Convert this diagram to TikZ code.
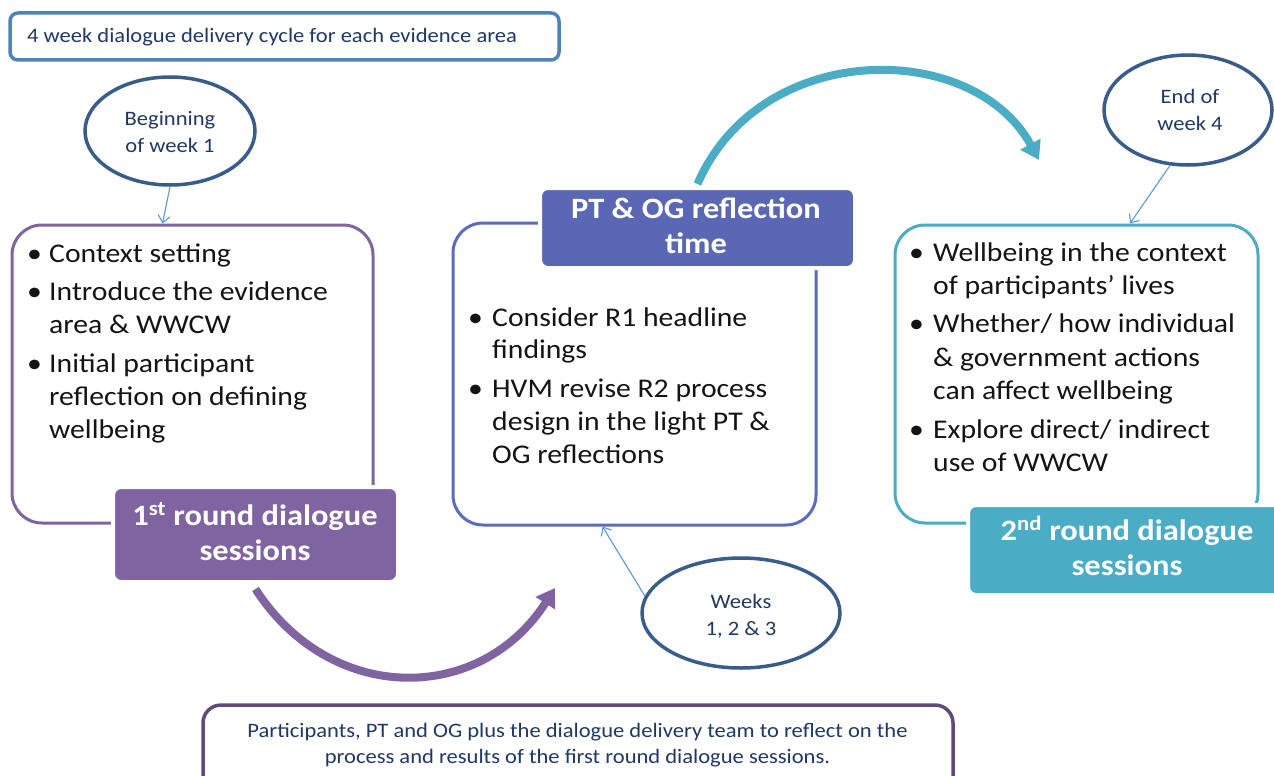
\documentclass[tikz,border=0pt]{standalone}
\usepackage{fontspec}
\setmainfont{Carlito}[FakeStretch=1.1]
\usetikzlibrary{arrows.meta,shapes.geometric}
\definecolor{ttlblue}{HTML}{4F81BD}
\definecolor{ellblue}{HTML}{385D8A}
\definecolor{navy}{HTML}{1F3864}
\definecolor{thinblue}{HTML}{5B9BD5}
\definecolor{purp}{HTML}{8064A2}
\definecolor{midfill}{HTML}{5A67B4}
\definecolor{midline}{HTML}{5B6CC0}
\definecolor{tealc}{HTML}{4BACC6}
\definecolor{darkpurp}{HTML}{604A7B}
\definecolor{bodytext}{HTML}{141414}
\begin{document}
\begin{tikzpicture}[x=1pt,y=-1pt,
  obox/.style={draw, line width=3pt, rounded corners=30pt, inner sep=0pt, fill=white},
  hbox/.style={draw=white, line width=4pt, rounded corners=8pt, inner sep=0pt},
  ell/.style={ellipse, draw=ellblue, line width=3.5pt, fill=white, inner sep=0pt},
  body/.style={anchor=base west, inner sep=0pt, text=bodytext, font=\fontsize{27}{33}\selectfont},
  small/.style={anchor=base, inner sep=0pt, text=navy, font=\fontsize{20.5}{24}\selectfont},
  head/.style={anchor=base, inner sep=0pt, text=white, font=\fontsize{29.5}{35}\selectfont\bfseries},
  thinarr/.style={draw=thinblue, line width=1.1pt, -{Straight Barb[length=7pt,width=12pt]}},
  bigarr/.style={line width=8pt, -{Triangle[length=18pt,width=22pt]}}
]
\useasboundingbox (0,0) rectangle (1274,776);
\clip (0,0) rectangle (1274,776);
\fill[white] (0,0) rectangle (1274,776);

% title box
\node[draw=ttlblue, line width=3.5pt, rounded corners=8pt, minimum width=549pt, minimum height=47pt, inner sep=0pt] (title) at (284.5,36.5) {};
\node[small, anchor=base west] (titletext) at (27,43) {4 week dialogue delivery cycle for each evidence area};

% bottom box
\node[draw=darkpurp, line width=3.5pt, rounded corners=18pt, minimum width=750pt, minimum height=100pt, inner sep=0pt] (bottom) at (578,755) {};
\node[small] (bt1) at (577.5,737) {Participants, PT and OG plus the dialogue delivery team to reflect on the};
\node[small] (bt2) at (577.5,763) {process and results of the first round dialogue sessions.};

% outline boxes
\node[obox, draw=purp, minimum width=361pt, minimum height=298pt] (lbox) at (192.5,374) {};
\node[obox, draw=midline, minimum width=363pt, minimum height=302pt] (mbox) at (634.5,374) {};
\node[obox, draw=tealc, minimum width=363pt, minimum height=298pt] (rbox) at (1076.5,374) {};

% ellipses
\node[ell, minimum width=170pt, minimum height=108pt] (e1) at (170,131) {};
\node[small] (e1a) at (170,125) {Beginning};
\node[small] (e1b) at (170,152) {of week 1};
\node[ell, minimum width=198pt, minimum height=110pt] (e2) at (741,613) {};
\node[small] (e2a) at (741,608) {Weeks};
\node[small] (e2b) at (741,635) {1, 2 \& 3};
\node[ell, minimum width=168pt, minimum height=110pt] (e3) at (1188,110) {};
\node[small] (e3a) at (1190,103) {End of};
\node[small] (e3b) at (1190,130) {week 4};

% thin connectors
\draw[thinarr] (e1.south) -- ([xshift=-30pt]lbox.north);
\draw[thinarr] (e2.170) -- ([xshift=-32pt]mbox.south);
\draw[thinarr] (e3.252) -- ([xshift=53.5pt]rbox.north);

% left bullets
\node[body] (lb1) at (27,262) {•};
\node[body] (lt1) at (49,262) {Context setting};
\node[body] (lb2) at (27,300) {•};
\node[body] (lt2) at (49,300) {Introduce the evidence};
\node[body] (lt3) at (49,333) {area \& WWCW};
\node[body] (lb3) at (27,372) {•};
\node[body] (lt4) at (49,372) {Initial participant};
\node[body] (lt5) at (49,405) {reflection on defining};
\node[body] (lt6) at (49,438) {wellbeing};

% middle bullets
\node[body] (mb1) at (468,326) {•};
\node[body] (mt1) at (492,326) {Consider R1 headline};
\node[body] (mt2) at (492,358) {findings};
\node[body] (mb2) at (468,397) {•};
\node[body] (mt3) at (492,397) {HVM revise R2 process};
\node[body] (mt4) at (492,430) {design in the light PT \&};
\node[body] (mt5) at (492,463) {OG reflections};

% right bullets
\node[body] (rb1) at (909,261) {•};
\node[body] (rt1) at (933,261) {Wellbeing in the context};
\node[body] (rt2) at (933,294) {of participants’ lives};
\node[body] (rb2) at (909,332) {•};
\node[body] (rt3) at (933,332) {Whether/ how individual};
\node[body] (rt4) at (933,366) {\& government actions};
\node[body] (rt5) at (933,399) {can affect wellbeing};
\node[body] (rb3) at (909,438) {•};
\node[body] (rt6) at (933,438) {Explore direct/ indirect};
\node[body] (rt7) at (933,471) {use of WWCW};

% header boxes
\node[hbox, fill=purp, minimum width=285pt, minimum height=95pt] (h1) at (255.5,534.5) {};
\node[head] (h1a) at (255,525) {1\textsuperscript{st} round dialogue};
\node[head] (h1b) at (255,560) {sessions};
\node[hbox, fill=midfill, minimum width=315pt, minimum height=80pt] (h2) at (697.5,228) {};
\node[head] (h2a) at (696,218) {PT \& OG reflection};
\node[head] (h2b) at (696,253) {time};
\node[hbox, fill=tealc, minimum width=318pt, minimum height=90pt] (h3) at (1127,550) {};
\node[head] (h3a) at (1127,540) {2\textsuperscript{nd} round dialogue};
\node[head] (h3b) at (1127,575) {sessions};

% big curved arrows
\coordinate (p1end) at (555,588);
\coordinate (p2end) at (1039,160);
\draw[bigarr, draw=purp] ([yshift=-5pt]h1.south) .. controls (330,705) and (480,705) .. (p1end);
\draw[bigarr, draw=tealc] ([yshift=2pt]h2.north) .. controls (760,39) and (973,39) .. (p2end);
\end{tikzpicture}
\end{document}
